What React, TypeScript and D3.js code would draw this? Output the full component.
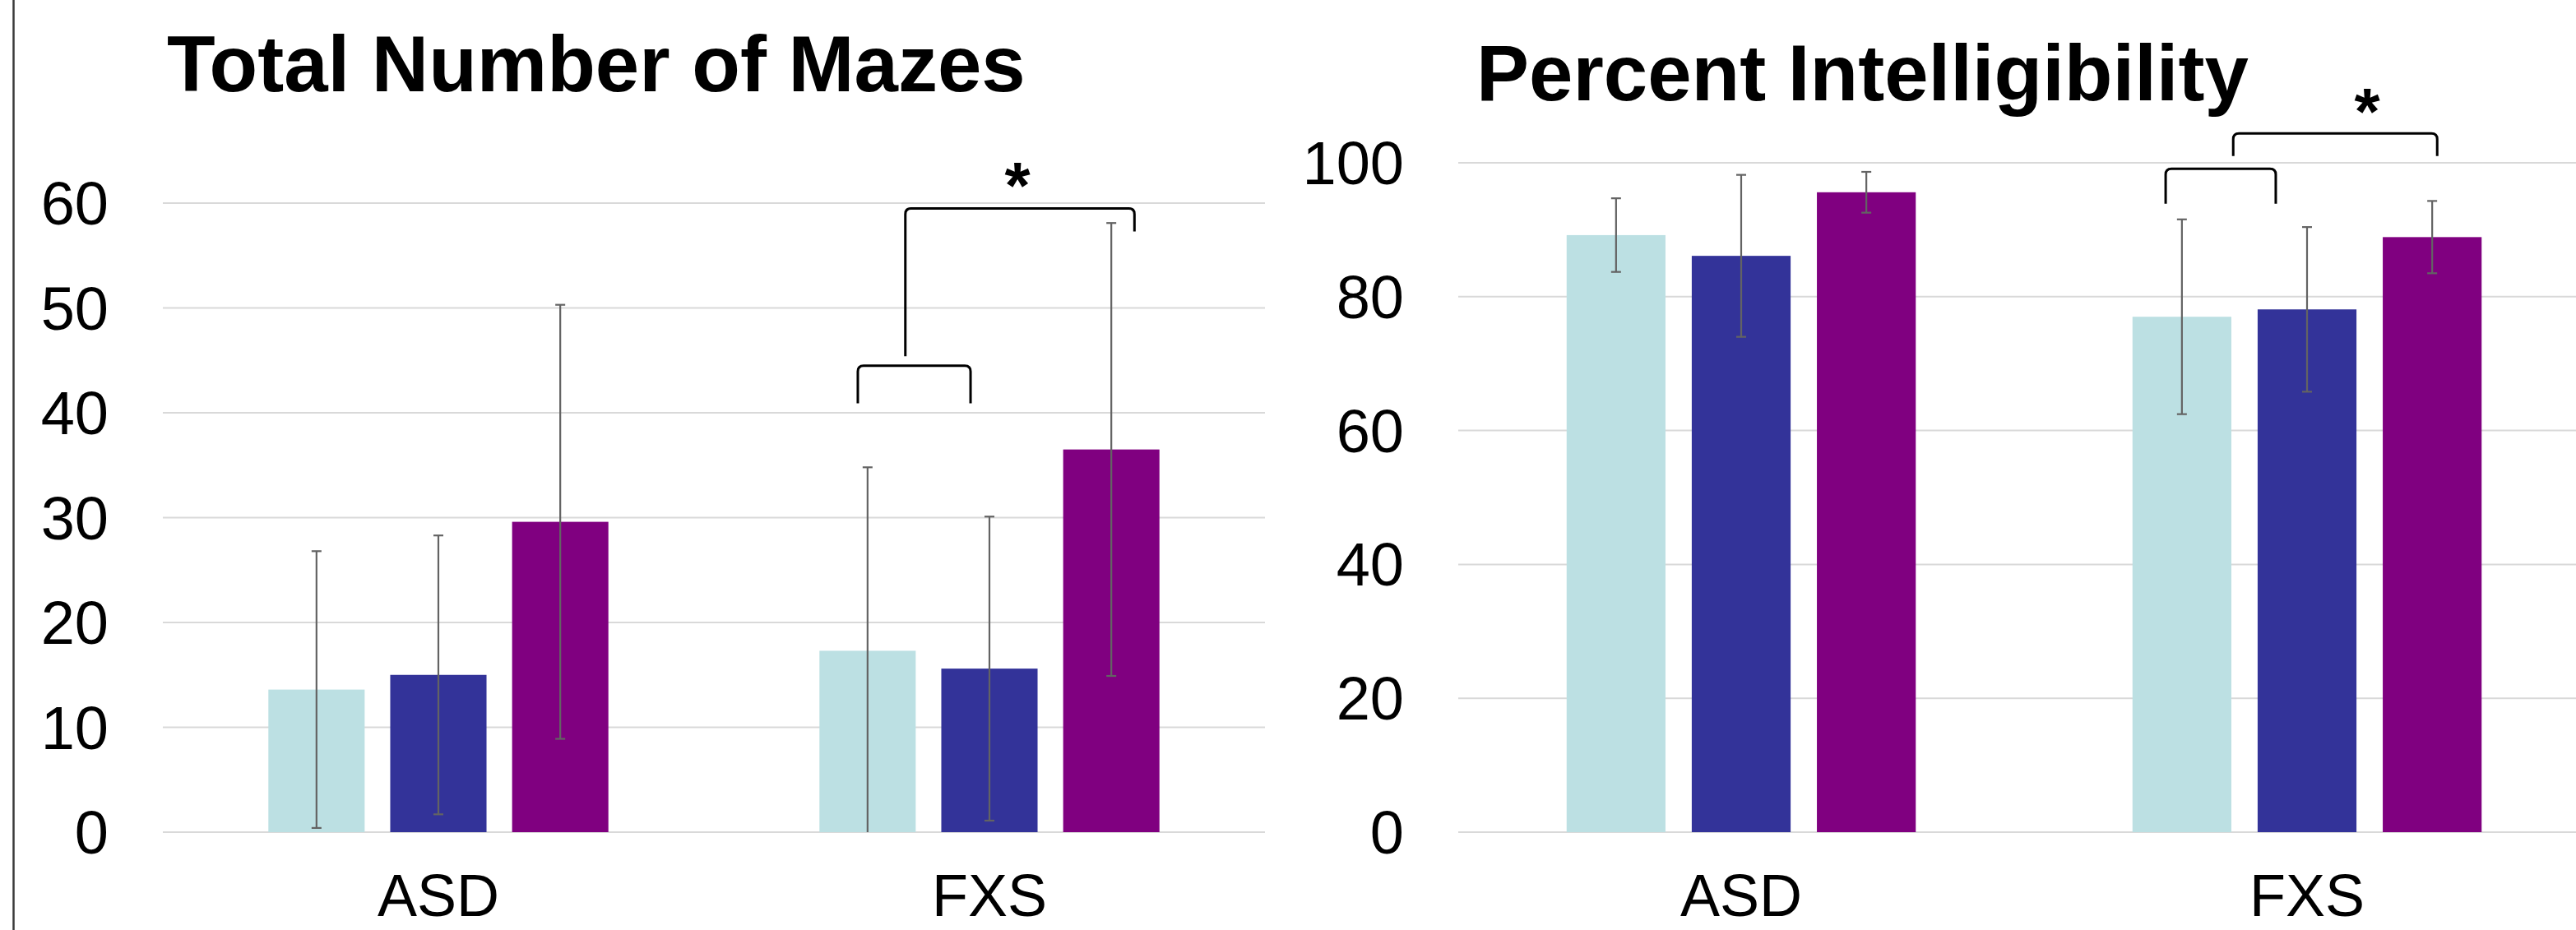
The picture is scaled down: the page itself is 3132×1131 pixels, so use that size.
import React from "react";
import * as d3 from "d3";

// ---- data ----
const categories = ["ASD", "FXS"];
const seriesIndex = [0, 1, 2];
const seriesColors = ["#BCE0E3", "#333399", "#800080"];

// Total number of mazes: mean and SD per group (ASD, FXS) × series
const mazesMeans = [
  [13.6, 15.0, 29.6],
  [17.3, 15.6, 36.5],
];
const mazesSD = [
  [13.2, 13.3, 20.7],
  [17.5, 14.5, 21.6],
];
const mazesTicks = [0, 10, 20, 30, 40, 50, 60];

// Percent intelligibility: mean and SD per group × series
const intellMeans = [
  [89.2, 86.1, 95.6],
  [77.0, 78.1, 88.9],
];
const intellSD = [
  [5.5, 12.1, 3.05],
  [14.55, 12.3, 5.4],
];
const intellTicks = [0, 20, 40, 60, 80, 100];

// Significance brackets: group, series span (fractional bar index), top value, leg ends
type Bracket = { group: string; from: number; to: number; top: number; leftEnd: number; rightEnd: number };
const mazesBrackets: Bracket[] = [
  { group: "FXS", from: -0.08, to: 0.845, top: 44.5, leftEnd: 40.9, rightEnd: 40.9 },
  { group: "FXS", from: 0.31, to: 2.19, top: 59.5, leftEnd: 45.4, rightEnd: 57.3 },
];
const intellBrackets: Bracket[] = [
  { group: "FXS", from: -0.13, to: 0.75, top: 99.1, leftEnd: 93.9, rightEnd: 93.9 },
  { group: "FXS", from: 0.41, to: 2.04, top: 104.4, leftEnd: 101.0, rightEnd: 101.0 },
];
const mazesStar = { group: "FXS", at: 1.23, value: 64.0 };
const intellStar = { group: "FXS", at: 1.48, value: 111.3 };

const W = 3132;
const H = 1131;
const FONT = "'Liberation Sans', Arial, Helvetica, sans-serif";

type PanelProps = {
  title: string;
  titleX: number;
  titleY: number;
  x0: number;
  x1: number;
  yTop: number;
  yBottom: number;
  domainMax: number;
  ticks: number[];
  means: number[][];
  sds: number[][];
  brackets: Bracket[];
  star: { group: string; at: number; value: number };
};

function Panel(p: PanelProps) {
  const x = d3.scaleBand<string>().domain(categories).range([p.x0, p.x1]).paddingInner(0).paddingOuter(0);
  const bw = x.bandwidth();
  const groupW = bw * 0.617;
  const inner = d3
    .scaleBand<number>()
    .domain(seriesIndex)
    .range([(bw - groupW) / 2, (bw + groupW) / 2])
    .paddingInner(0.21)
    .paddingOuter(0);
  const y = d3.scaleLinear().domain([0, p.domainMax]).range([p.yBottom, p.yTop]);
  const barW = inner.bandwidth();
  const step = inner.step();
  const posAt = (group: string, t: number) => (x(group) as number) + (inner(0) as number) + barW / 2 + step * t;

  const capHalf = 6;
  const r = 7;

  return (
    <g>
      <text x={p.titleX} y={p.titleY} fontFamily={FONT} fontWeight="bold" fontSize={96} fill="#000">
        {p.title}
      </text>
      {p.ticks.map((t) => (
        <g key={t}>
          <line x1={p.x0} x2={p.x1} y1={y(t)} y2={y(t)} stroke="#D9D9D9" strokeWidth={2} />
          <text
            x={p.x0 - 66}
            y={y(t) + 26}
            textAnchor="end"
            fontFamily={FONT}
            fontSize={74}
            fill="#000"
          >
            {t}
          </text>
        </g>
      ))}
      {categories.map((c, ci) => (
        <g key={c}>
          {seriesIndex.map((s) => {
            const bx = (x(c) as number) + (inner(s) as number);
            const m = p.means[ci][s];
            const sd = p.sds[ci][s];
            const cx = bx + barW / 2;
            const hiV = m + sd;
            const loV = Math.max(0, m - sd);
            return (
              <g key={s}>
                <rect x={bx} y={y(m)} width={barW} height={y(0) - y(m)} fill={seriesColors[s]} />
                <line x1={cx} x2={cx} y1={y(hiV)} y2={y(loV)} stroke="#636363" strokeWidth={2.2} />
                <line x1={cx - capHalf} x2={cx + capHalf} y1={y(hiV)} y2={y(hiV)} stroke="#636363" strokeWidth={2.2} />
                {m - sd > 0 && (
                  <line x1={cx - capHalf} x2={cx + capHalf} y1={y(loV)} y2={y(loV)} stroke="#636363" strokeWidth={2.2} />
                )}
              </g>
            );
          })}
          <text
            x={(x(c) as number) + bw / 2}
            y={1114}
            textAnchor="middle"
            fontFamily={FONT}
            fontSize={72}
            fill="#000"
          >
            {c}
          </text>
        </g>
      ))}
      {p.brackets.map((b, i) => {
        const xl = posAt(b.group, b.from);
        const xr = posAt(b.group, b.to);
        const yt = y(b.top);
        const yl = y(b.leftEnd);
        const yr = y(b.rightEnd);
        const path = d3.path();
        path.moveTo(xl, yl);
        path.lineTo(xl, yt + r);
        path.quadraticCurveTo(xl, yt, xl + r, yt);
        path.lineTo(xr - r, yt);
        path.quadraticCurveTo(xr, yt, xr, yt + r);
        path.lineTo(xr, yr);
        return <path key={i} d={path.toString()} fill="none" stroke="#000" strokeWidth={3} />;
      })}
      <text
        x={posAt(p.star.group, p.star.at)}
        y={y(p.star.value) + 57}
        textAnchor="middle"
        fontFamily={FONT}
        fontWeight="bold"
        fontSize={80}
        fill="#000"
      >
        *
      </text>
    </g>
  );
}

export default function App() {
  return (
    <svg
      width={W}
      height={H}
      viewBox={`0 0 ${W} ${H}`}
      style={{ position: "absolute", left: 0, top: 0, background: "#fff" }}
    >
      <rect x={0} y={0} width={W} height={H} fill="#fff" />
      <line x1={16.5} x2={16.5} y1={0} y2={H} stroke="#3A3A3A" strokeWidth={2.5} />
      <Panel
        title="Total Number of Mazes"
        titleX={203}
        titleY={111}
        x0={198}
        x1={1538}
        yTop={247}
        yBottom={1012}
        domainMax={60}
        ticks={mazesTicks}
        means={mazesMeans}
        sds={mazesSD}
        brackets={mazesBrackets}
        star={mazesStar}
      />
      <Panel
        title="Percent Intelligibility"
        titleX={1795}
        titleY={122}
        x0={1773}
        x1={3149}
        yTop={198}
        yBottom={1012}
        domainMax={100}
        ticks={intellTicks}
        means={intellMeans}
        sds={intellSD}
        brackets={intellBrackets}
        star={intellStar}
      />
    </svg>
  );
}
